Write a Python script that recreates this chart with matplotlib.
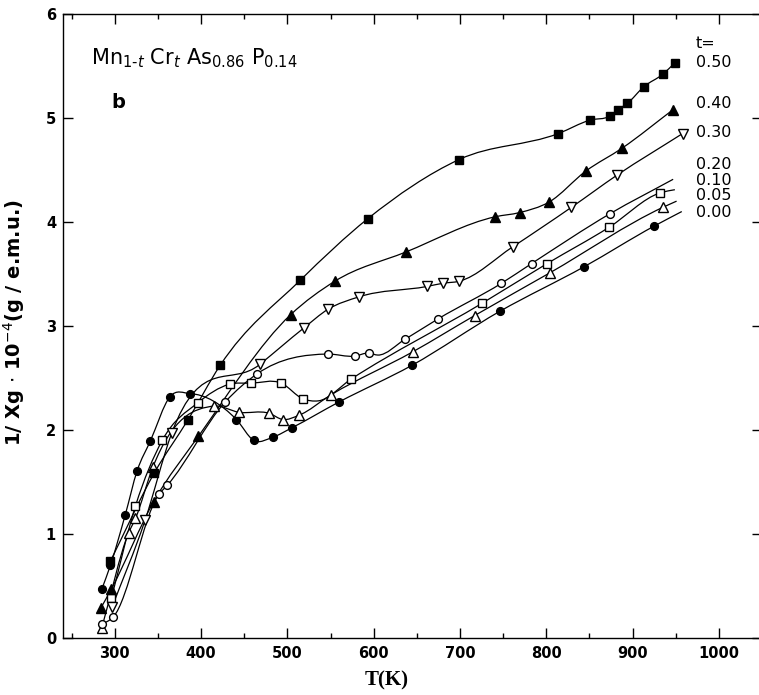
"""Inverse susceptibility of Mn(1-t)Cr(t)As(0.86)P(0.14) versus temperature."""

import matplotlib

matplotlib.use("Agg")
import matplotlib.pyplot as plt
from matplotlib.patches import PathPatch
from matplotlib.path import Path
from matplotlib.ticker import MultipleLocator

# --- data: T in K, 1/chi in 1e4 g/e.m.u. ---
# t = 0.00, filled circles
T_000 = [285, 295, 312, 326, 341, 364, 387, 441, 461, 483, 505, 560, 644, 746, 844, 925]
Y_000 = [0.47, 0.70, 1.18, 1.61, 1.89, 2.32, 2.35, 2.10, 1.90, 1.93, 2.02, 2.27, 2.62, 3.14, 3.57, 3.96]
EXTRA_000 = [(957, 4.10)]

# t = 0.05, open triangles
T_005 = [285, 316, 324, 344, 415, 444, 479, 495, 513, 551, 645, 717, 804, 935]
Y_005 = [0.10, 1.01, 1.15, 1.64, 2.23, 2.17, 2.16, 2.10, 2.14, 2.34, 2.75, 3.10, 3.51, 4.14]
EXTRA_005 = [(951, 4.20)]

# t = 0.10, open squares
T_010 = [296, 324, 355, 396, 433, 458, 493, 518, 574, 726, 801, 873, 932]
Y_010 = [0.38, 1.27, 1.90, 2.26, 2.44, 2.45, 2.45, 2.30, 2.49, 3.22, 3.60, 3.95, 4.28]
EXTRA_010 = [(536, 2.28), (949, 4.31)]

# t = 0.20, open circles
T_020 = [285, 298, 351, 361, 428, 465, 547, 578, 594, 636, 675, 748, 783, 874]
Y_020 = [0.13, 0.20, 1.38, 1.47, 2.27, 2.54, 2.73, 2.71, 2.74, 2.87, 3.07, 3.41, 3.60, 4.08]
EXTRA_020 = [(605, 2.72), (947, 4.41)]

# t = 0.30, open down triangles
T_030 = [297, 335, 366, 468, 519, 547, 583, 662, 680, 699, 761, 829, 882, 958]
Y_030 = [0.30, 1.13, 1.97, 2.63, 2.98, 3.16, 3.28, 3.38, 3.41, 3.43, 3.76, 4.14, 4.45, 4.85]
EXTRA_030 = []

# t = 0.40, filled triangles
T_040 = [284, 296, 345, 397, 504, 555, 637, 741, 769, 803, 846, 888, 947]
Y_040 = [0.29, 0.47, 1.31, 1.94, 3.11, 3.43, 3.71, 4.05, 4.09, 4.19, 4.49, 4.71, 5.08]
EXTRA_040 = []

# t = 0.50, filled squares
T_050 = [295, 346, 385, 422, 515, 593, 699, 814, 851, 874, 883, 894, 913, 935, 949]
Y_050 = [0.74, 1.59, 2.10, 2.62, 3.44, 4.03, 4.60, 4.85, 4.98, 5.02, 5.08, 5.14, 5.30, 5.42, 5.53]
EXTRA_050 = []

T_LABELS = ["0.50", "0.40", "0.30", "0.20", "0.10", "0.05", "0.00"]
T_LABEL_Y = [5.53, 5.14, 4.86, 4.55, 4.40, 4.25, 4.09]


def smooth_path(xs, ys):
    """Cubic Bezier path through the nodes, tangents from neighbouring secants."""
    n = len(xs)
    sec = [(ys[i + 1] - ys[i]) / (xs[i + 1] - xs[i]) for i in range(n - 1)]
    slopes = [sec[0]]
    for i in range(1, n - 1):
        h0, h1 = xs[i] - xs[i - 1], xs[i + 1] - xs[i]
        slopes.append((h1 * sec[i - 1] + h0 * sec[i]) / (h0 + h1))
    slopes.append(sec[-1])
    verts = [(xs[0], ys[0])]
    codes = [Path.MOVETO]
    for i in range(n - 1):
        h = (xs[i + 1] - xs[i]) / 3.0
        verts += [(xs[i] + h, ys[i] + slopes[i] * h),
                  (xs[i + 1] - h, ys[i + 1] - slopes[i + 1] * h),
                  (xs[i + 1], ys[i + 1])]
        codes += [Path.CURVE4] * 3
    return Path(verts, codes)


series = [
    (T_000, Y_000, EXTRA_000, "o", "black", 5.6),
    (T_005, Y_005, EXTRA_005, "^", "white", 6.6),
    (T_010, Y_010, EXTRA_010, "s", "white", 5.4),
    (T_020, Y_020, EXTRA_020, "o", "white", 5.6),
    (T_030, Y_030, EXTRA_030, "v", "white", 6.6),
    (T_040, Y_040, EXTRA_040, "^", "black", 6.6),
    (T_050, Y_050, EXTRA_050, "s", "black", 5.4),
]

fig = plt.figure(figsize=(7.59, 6.95), dpi=100)
ax = fig.add_axes([0.083, 0.082, 0.921, 0.898])

for xs, ys, extra, marker, face, size in series:
    nodes = sorted(list(zip(xs, ys)) + list(extra))
    path = smooth_path([p[0] for p in nodes], [p[1] for p in nodes])
    ax.add_patch(PathPatch(path, facecolor="none", edgecolor="black",
                           linewidth=0.9, zorder=2))
    ax.plot(xs, ys, linestyle="none", marker=marker, markersize=size,
            markerfacecolor=face, markeredgecolor="black",
            markeredgewidth=1.0, zorder=3)

ax.set_xlim(240, 1048)
ax.set_ylim(0, 6)
ax.set_xticks(range(300, 1001, 100))
ax.set_xticks(range(250, 1051, 100), minor=True)
ax.yaxis.set_major_locator(MultipleLocator(1))
ax.tick_params(which="both", direction="in", top=True, right=True,
               width=1.0, labelsize=10.5)
ax.tick_params(which="major", length=7, pad=6)
ax.tick_params(which="minor", length=3.5)
ax.tick_params(axis="y", pad=5)
for lab in ax.get_xticklabels() + ax.get_yticklabels():
    lab.set_fontweight("bold")
for sp in ax.spines.values():
    sp.set_linewidth(1.0)

ax.set_xlabel("T(K)", family="Liberation Serif", fontweight="bold", fontsize=15)
ax.xaxis.set_label_coords(0.4635, -0.052)
ax.set_ylabel(r"1/ Xg $\cdot$ 10$^{-4}$(g / e.m.u.)", fontweight="bold", fontsize=14)
ax.yaxis.set_label_coords(-0.052, 0.505)

ax.text(273, 5.51, r"Mn$_{1\text{-}t}$ Cr$_t$ As$_{0.86}$ P$_{0.14}$",
        fontsize=15, va="baseline", ha="left")
ax.text(296, 5.10, "b", fontsize=14, fontweight="bold", va="baseline")

ax.text(973, 5.72, "t=", fontsize=11.5, va="center", ha="left")
for lab, y in zip(T_LABELS, T_LABEL_Y):
    ax.text(973, y, lab, fontsize=11.5, va="center", ha="left")

fig.savefig("out.png", dpi=100)
